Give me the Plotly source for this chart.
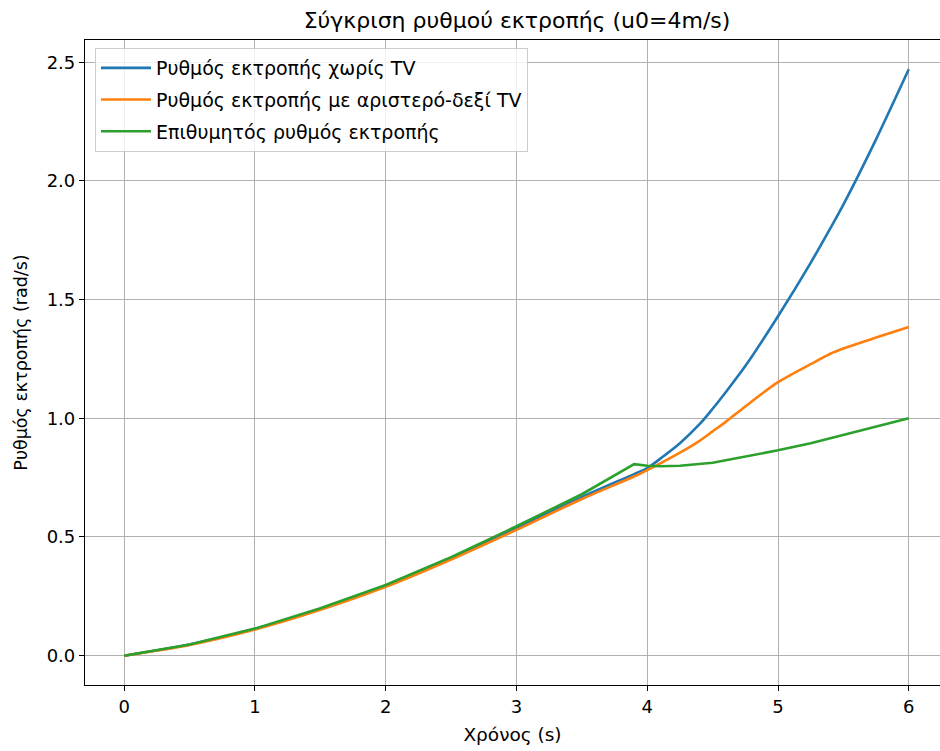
import plotly.graph_objects as go

# Time samples (s) and yaw-rate readings (rad/s) for each case
time_s = [0, 0.5, 1.0, 1.5, 2.0, 2.5, 3.0, 3.5, 3.9, 4.0, 4.1, 4.25, 4.4, 4.5, 4.6, 4.75,
          5.0, 5.25, 5.4, 5.5, 5.75, 6.0]
yaw_no_tv = [0, 0.047, 0.113, 0.197, 0.295, 0.41, 0.537, 0.668, 0.765, 0.79, 0.83, 0.895,
             0.975, 1.04, 1.11, 1.22, 1.43, 1.655, 1.80, 1.90, 2.175, 2.47]
yaw_lr_tv = [0, 0.045, 0.11, 0.193, 0.29, 0.405, 0.53, 0.66, 0.755, 0.782, 0.81, 0.855,
             0.905, 0.945, 0.985, 1.05, 1.152, 1.228, 1.272, 1.294, 1.34, 1.385]

time_ref = [0, 0.5, 1.0, 1.5, 2.0, 2.5, 3.0, 3.5, 3.9, 4.0, 4.1, 4.25, 4.5, 4.75, 5.0,
            5.25, 5.5, 5.7, 6.0]
yaw_ref = [0, 0.047, 0.114, 0.2, 0.298, 0.415, 0.545, 0.68, 0.807, 0.80, 0.798, 0.80,
           0.813, 0.838, 0.865, 0.895, 0.93, 0.955, 1.0]

labels = [
    "Ρυθμός εκτροπής χωρίς TV",
    "Ρυθμός εκτροπής με αριστερό-δεξί TV",
    "Επιθυμητός ρυθμός εκτροπής",
]
colors = ["#1f77b4", "#ff7f0e", "#2ca02c"]

FONT = "DejaVu Sans"

fig = go.Figure()
series = [(time_s, yaw_no_tv, "spline"), (time_s, yaw_lr_tv, "spline"), (time_ref, yaw_ref, "linear")]
for i, ((t, y, shape), name, c) in enumerate(zip(series, labels, colors)):
    line = dict(color=c, width=2.6, shape=shape)
    if shape == "spline":
        line["smoothing"] = 0.8
    fig.add_trace(go.Scatter(
        x=t, y=y, mode="lines", name=name, legendgroup=f"g{i}", line=line,
    ))

axis_common = dict(
    showgrid=True, gridcolor="#b0b0b0", gridwidth=1.2,
    zeroline=False, showline=True, linecolor="black", linewidth=1.2,
    ticks="outside", ticklen=5, tickcolor="black", tickwidth=1.2,
    tickfont=dict(family=FONT, size=18, color="black"),
)

fig.update_layout(
    width=940, height=751,
    margin=dict(l=85, r=0, t=40, b=66),
    paper_bgcolor="white", plot_bgcolor="white",
    font=dict(family=FONT, color="black"),
    title=dict(
        text="Σύγκριση ρυθμού εκτροπής (u0=4m/s)",
        font=dict(family=FONT, size=22, color="black"),
        x=517 / 940, xanchor="center", xref="container",
        y=1 - 20 / 751, yanchor="middle", yref="container",
    ),
    xaxis=dict(
        range=[-0.3, 6.239], tickmode="array", tickvals=[0, 1, 2, 3, 4, 5, 6],
        mirror=True,
        title=dict(text="Χρόνος (s)", font=dict(family=FONT, size=18.5, color="black"), standoff=12),
        **axis_common,
    ),
    yaxis=dict(
        range=[-0.1235, 2.5935], tickmode="array",
        tickvals=[0, 0.5, 1.0, 1.5, 2.0, 2.5],
        ticktext=["0.0", "0.5", "1.0", "1.5", "2.0", "2.5"],
        title=dict(text="Ρυθμός εκτροπής (rad/s)", font=dict(family=FONT, size=17.5, color="black"), standoff=14),
        **axis_common,
    ),
    showlegend=True,
    legend=dict(
        x=10 / 855, y=1 - 8 / 645, xanchor="left", yanchor="top",
        bgcolor="rgba(255,255,255,0.8)", bordercolor="#cccccc", borderwidth=1,
        font=dict(family=FONT, size=19, color="black"),
        tracegroupgap=4, itemwidth=50,
    ),
)

fig.write_html("out.html")
